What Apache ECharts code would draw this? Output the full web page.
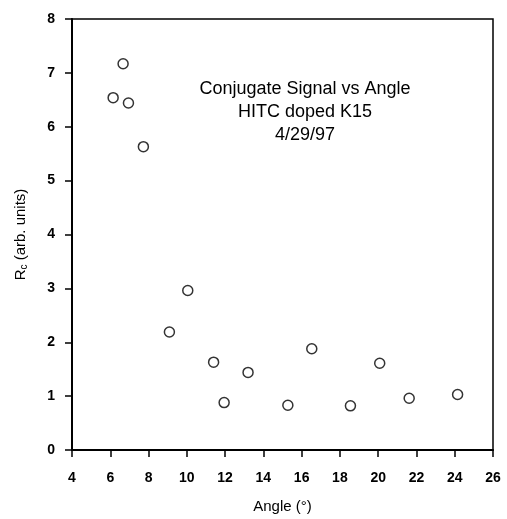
<!DOCTYPE html>
<html><head><meta charset="utf-8">
<script src="https://cdn.jsdelivr.net/npm/echarts@6/dist/echarts.min.js"></script>
<style>html,body{margin:0;padding:0;background:#fff}#c{width:507px;height:519px}</style>
</head><body><div id="c"></div>
<script>
const angles = [6.15, 6.67, 6.95, 7.73, 9.09, 10.05, 11.40, 11.95, 13.2, 15.28, 16.53, 18.55, 20.08, 21.62, 24.15];
const rcValues = [6.54, 7.17, 6.44, 5.63, 2.19, 2.96, 1.63, 0.88, 1.44, 0.83, 1.88, 0.82, 1.61, 0.96, 1.03];
const titleLines = ['Conjugate Signal vs Angle', 'HITC doped K15', '4/29/97'];
const xTicks = {min: 4, max: 26, interval: 2};
const yTicks = {min: 0, max: 8, interval: 1};

const chart = echarts.init(document.getElementById('c'));
const font = 'Liberation Sans, Arial, Helvetica, sans-serif';
chart.setOption({
  backgroundColor: '#fff',
  animation: false,
  title: {
    text: titleLines.join('\n'),
    left: 300, top: 73, textAlign: 'center',
    textStyle: {fontFamily: font, fontSize: 18, fontWeight: 'normal', color: '#000', lineHeight: 23}
  },
  grid: {left: 72, right: 14, top: 19, bottom: 67, show: true, borderColor: '#000', borderWidth: 1.5, backgroundColor: 'transparent'},
  xAxis: {
    type: 'value', min: xTicks.min, max: xTicks.max, interval: xTicks.interval,
    name: 'Angle (°)', nameLocation: 'middle', nameGap: 49,
    nameTextStyle: {fontFamily: font, fontSize: 15, color: '#000'},
    axisLine: {lineStyle: {color: '#000', width: 2}},
    axisTick: {inside: false, length: 7, lineStyle: {color: '#000', width: 1.5}},
    axisLabel: {fontFamily: font, fontSize: 14, fontWeight: 'bold', color: '#000', margin: 21},
    splitLine: {show: false}
  },
  yAxis: {
    type: 'value', min: yTicks.min, max: yTicks.max, interval: yTicks.interval,
    name: '{r|R}{s|c}{r| (arb. units)}', nameLocation: 'middle', nameGap: 43,
    nameTextStyle: {rich: {
      r: {fontFamily: font, fontSize: 15, color: '#000'},
      s: {fontFamily: font, fontSize: 10, color: '#000', verticalAlign: 'bottom', padding: [7, 0, 0, 0]}
    }},
    axisLine: {lineStyle: {color: '#000', width: 2}},
    axisTick: {inside: false, length: 7, lineStyle: {color: '#000', width: 1.5}},
    axisLabel: {fontFamily: font, fontSize: 14, fontWeight: 'bold', color: '#000', margin: 17},
    splitLine: {show: false}
  },
  series: [{
    type: 'scatter',
    data: angles.map((a, i) => [a, rcValues[i]]),
    symbol: 'circle', symbolSize: 10,
    itemStyle: {color: '#fff', borderColor: '#000', borderWidth: 1.5}
  }]
});
</script></body></html>
